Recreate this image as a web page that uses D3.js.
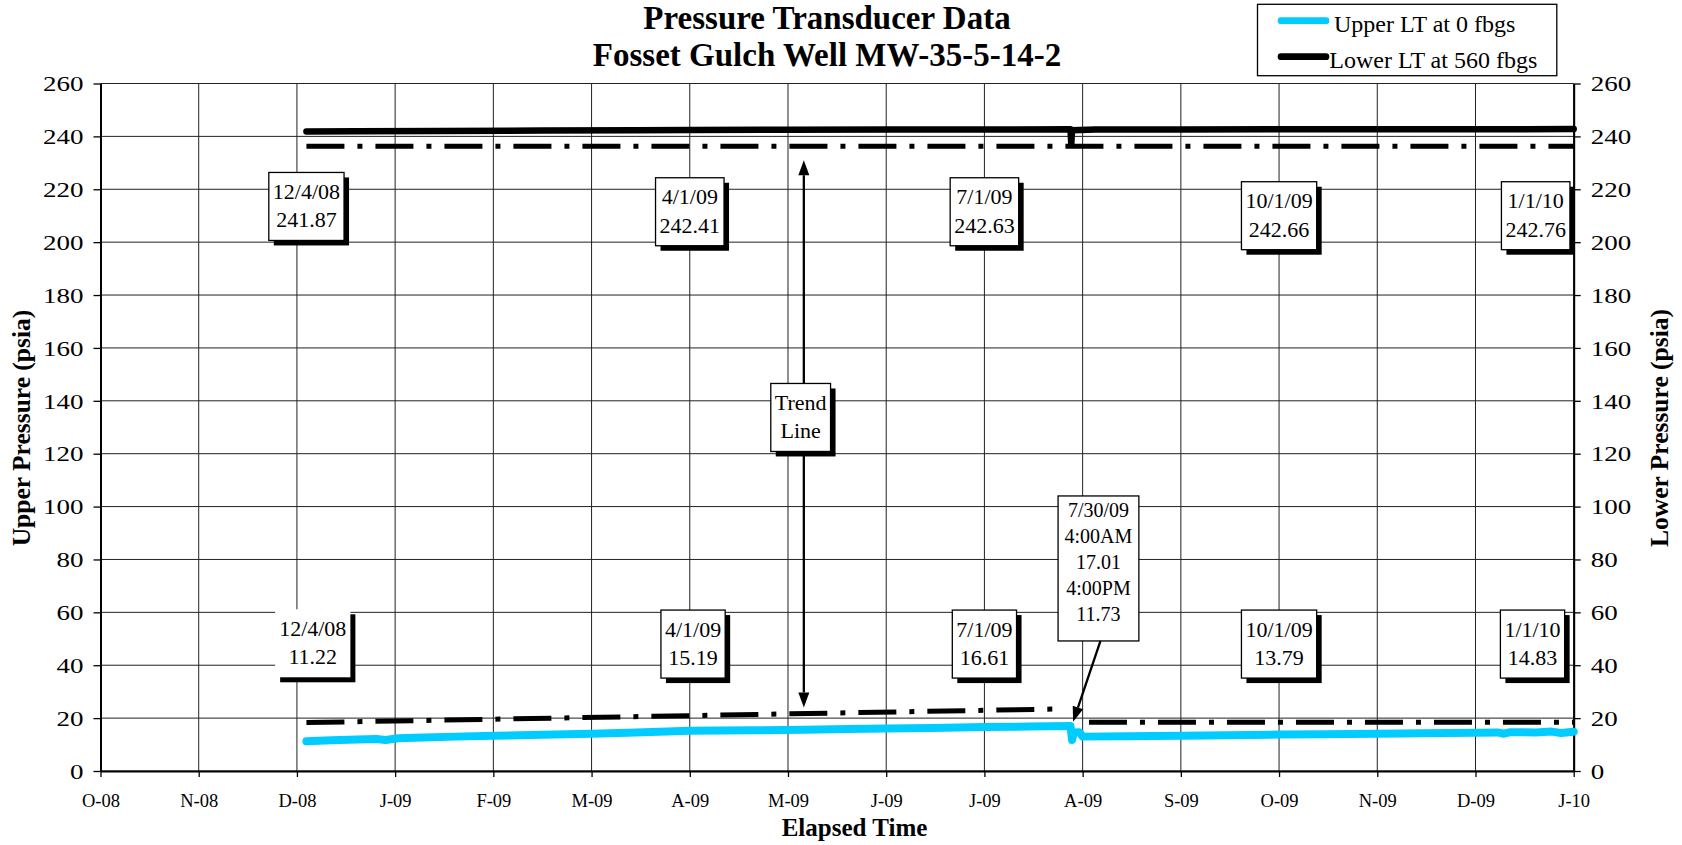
<!DOCTYPE html>
<html><head><meta charset="utf-8">
<script src="https://cdn.jsdelivr.net/npm/d3@7"></script>
<style>
body{margin:0;background:#fff;}
svg{display:block;font-family:"Liberation Serif","Times New Roman",serif;}
</style></head><body>
<svg id="chart" width="1682" height="845"></svg>
<script>
// ---------- DATA ----------
const xTickLabels = ["O-08","N-08","D-08","J-09","F-09","M-09","A-09","M-09","J-09","J-09","A-09","S-09","O-09","N-09","D-09","J-10"];
const yTicks = [0,20,40,60,80,100,120,140,160,180,200,220,240,260];

const upperDates = ["2008-12-04","2008-12-12","2008-12-20","2008-12-26","2008-12-29","2009-01-02","2009-01-10","2009-01-20","2009-02-01","2009-02-15","2009-03-01","2009-03-15","2009-04-01","2009-04-20","2009-05-06","2009-05-20","2009-06-01","2009-06-15","2009-07-01","2009-07-15","2009-07-28 04:00","2009-07-28 16:00","2009-07-29 06:00","2009-07-31 00:00","2009-08-01 00:00","2009-08-15","2009-09-01","2009-09-15","2009-10-01","2009-10-15","2009-11-01","2009-11-15","2009-12-01","2009-12-08","2009-12-10","2009-12-12","2009-12-20","2009-12-25","2009-12-28","2010-01-01"];
const upperValues = [11.22,11.6,11.9,12.1,11.7,12.4,12.7,13.0,13.3,13.7,14.1,14.6,15.19,15.4,15.6,15.9,16.1,16.3,16.61,16.8,17.01,11.73,14.6,14.7,13.0,13.1,13.3,13.5,13.79,13.9,14.1,14.3,14.5,14.6,14.1,14.7,14.6,14.9,14.4,14.83];

const lowerDates = ["2008-12-04","2008-12-20","2009-01-15","2009-02-15","2009-03-15","2009-04-01","2009-05-01","2009-06-01","2009-07-01","2009-07-28 04:00","2009-07-28 10:00","2009-07-28 16:00","2009-08-05","2009-09-01","2009-10-01","2009-11-01","2009-12-01","2010-01-01"];
const lowerValues = [241.87,241.95,242.08,242.2,242.32,242.41,242.5,242.57,242.63,242.66,237.0,242.3,242.6,242.63,242.66,242.7,242.73,242.76];

const lowerTrendDates = ["2008-12-04","2010-01-01"];
const lowerTrendValues = [236.3,236.3];
const upperTrendADates = ["2008-12-04","2009-07-26"];
const upperTrendAValues = [18.3,23.5];
const upperTrendBDates = ["2009-08-03","2010-01-01"];
const upperTrendBValues = [18.4,18.4];

const legendLabels = ["Upper LT at 0 fbgs","Lower LT at 560 fbgs"];
const titleLines = ["Pressure Transducer Data","Fosset Gulch Well MW-35-5-14-2"];

// callout texts and the (date, psia) point each box is centred on
const calloutTexts = [
  ["12/4/08","241.87"],["4/1/09","242.41"],["7/1/09","242.63"],["10/1/09","242.66"],["1/1/10","242.76"],
  ["12/4/08","11.22"],["4/1/09","15.19"],["7/1/09","16.61"],["10/1/09","13.79"],["1/1/10","14.83"],
  ["7/30/09","4:00AM","17.01","4:00PM","11.73"],
  ["Trend","Line"]
];
const calloutDates = ["2008-12-04","2009-04-01","2009-07-01","2009-10-01","2009-12-20",
  "2008-12-06","2009-04-02","2009-07-01","2009-10-01","2009-12-19","2009-08-06","2009-05-05"];
const calloutValues = [213.5,211.5,211.5,210,210, 48.3,48,48,48,48, 76.6, 133.7];

// ---------- HELPERS ----------
function monthIndex(s){
  const [dp,tp] = s.split(" ");
  const [Y,M,D] = dp.split("-").map(Number);
  let h = 0; if(tp){ const [hh,mm]=tp.split(":").map(Number); h = hh + mm/60; }
  const dim = new Date(Y, M, 0).getDate();
  return (Y-2008)*12 + (M-1) - 9 + (D-1 + h/24)/dim;
}

const svg = d3.select("#chart");
const L = 100.5, R = 1573.7, T = 83.5, B = 771;
const x = d3.scaleLinear().domain([0,15]).range([L,R]);
const y = d3.scaleLinear().domain([0,260]).range([B,T]);

// ---------- GRID ----------
const grid = svg.append("g");
grid.selectAll("line.v").data(d3.range(xTickLabels.length)).join("line")
  .attr("x1",d=>x(d)).attr("x2",d=>x(d)).attr("y1",y(0)).attr("y2",y(260))
  .attr("stroke","#222").attr("stroke-width",1);
grid.selectAll("line.h").data(yTicks).join("line")
  .attr("x1",L).attr("x2",R).attr("y1",d=>y(d)).attr("y2",d=>y(d))
  .attr("stroke","#222").attr("stroke-width",1);

// ---------- AXES ----------
const axL = svg.append("g").attr("transform",`translate(${L},0)`)
  .call(d3.axisLeft(y).tickValues(yTicks).tickSize(7).tickSizeOuter(0).tickFormat(d3.format("d")));
const axR = svg.append("g").attr("transform",`translate(${R},0)`)
  .call(d3.axisRight(y).tickValues(yTicks).tickSize(7).tickSizeOuter(0).tickFormat(d3.format("d")));
const axB = svg.append("g").attr("transform",`translate(0,${B})`)
  .call(d3.axisBottom(x).tickValues(d3.range(xTickLabels.length)).tickSize(6).tickSizeOuter(0).tickFormat(i=>xTickLabels[i]));
[axL,axR,axB].forEach(a=>{
  a.select(".domain").attr("stroke","#000").attr("stroke-width",2);
  a.selectAll(".tick line").attr("stroke","#000").attr("stroke-width",1.3);
});
axL.selectAll(".tick text").attr("x",0).attr("dy","0.36em")
  .attr("transform","translate(-17,0) scale(1.35,1)")
  .attr("font-family","Liberation Serif").attr("font-size",20).attr("fill","#000").attr("text-anchor","end");
axR.selectAll(".tick text").attr("x",0).attr("dy","0.36em")
  .attr("transform","translate(17,0) scale(1.35,1)")
  .attr("font-family","Liberation Serif").attr("font-size",20).attr("fill","#000").attr("text-anchor","start");
axB.selectAll(".tick text").attr("y",36).attr("dy",0)
  .attr("font-family","Liberation Serif").attr("font-size",18.5).attr("fill","#000");

// ---------- TREND LINES ----------
const line = d3.line().x(d=>x(monthIndex(d[0]))).y(d=>y(d[1]));
const trend = svg.append("g").attr("fill","none").attr("stroke","#000").attr("stroke-width",5)
  .attr("stroke-dasharray","38,13,5,13");
[[lowerTrendDates,lowerTrendValues],[upperTrendADates,upperTrendAValues],[upperTrendBDates,upperTrendBValues]]
  .forEach(([ds,vs])=>trend.append("path").attr("d",line(d3.zip(ds,vs))));

// ---------- DATA LINES ----------
svg.append("path").attr("d",line(d3.zip(upperDates,upperValues)))
  .attr("fill","none").attr("stroke","#00CCFF").attr("stroke-width",8)
  .attr("stroke-linejoin","round").attr("stroke-linecap","round");
svg.append("path").attr("d",line(d3.zip(lowerDates,lowerValues)))
  .attr("fill","none").attr("stroke","#000").attr("stroke-width",6.5)
  .attr("stroke-linejoin","round").attr("stroke-linecap","round");

// ---------- ARROWS ----------
function arrow(x1,y1,x2,y2,headBoth){
  const g = svg.append("g");
  const head=(ax,ay,bx,by)=>{
    const ang=Math.atan2(by-ay,bx-ax), len=15, w=5.5;
    const px=bx-len*Math.cos(ang), py=by-len*Math.sin(ang);
    g.append("path").attr("d",`M${bx},${by}L${px+w*Math.sin(ang)},${py-w*Math.cos(ang)}L${px-w*Math.sin(ang)},${py+w*Math.cos(ang)}Z`).attr("fill","#000");
    return [px,py];
  };
  let [ex,ey]=head(x1,y1,x2,y2);
  let sx=x1, sy=y1;
  if(headBoth){ [sx,sy]=head(x2,y2,x1,y1); }
  g.append("line").attr("x1",sx).attr("y1",sy).attr("x2",ex).attr("y2",ey).attr("stroke","#000").attr("stroke-width",2.3);
}
const ax0 = x(monthIndex("2009-05-06"));
arrow(ax0, y(231), ax0, y(24), true);

// ---------- CALLOUT BOXES ----------
const boxGeom = [];
calloutTexts.forEach((lines,i)=>{
  const small = lines.length>2;
  const fs = small?20:22, lh = small?26:28.5, first = small?21:26.5, pad = small?6.5:4;
  const cx = x(monthIndex(calloutDates[i])), cy = y(calloutValues[i]);
  const h = small ? (lines.length-1)*lh + first + 20 : lines.length*lh + 11;
  const g = svg.append("g");
  const sh = g.append("rect"), bg = g.append("rect");
  const top = cy - h/2;
  let maxW = 0;
  lines.forEach((t,j)=>{
    const tx = g.append("text").attr("x",cx).attr("y",top+first+j*lh).attr("text-anchor","middle")
      .attr("font-size",fs).attr("fill","#000").text(t);
    maxW = Math.max(maxW, tx.node().getComputedTextLength());
  });
  const w = maxW + 2*pad;
  const noShadow = (i===10), noBorder = (i===5);
  if(!noShadow) sh.attr("x",cx-w/2+5).attr("y",top+5).attr("width",w).attr("height",h).attr("fill","#000");
  bg.attr("x",cx-w/2).attr("y",top).attr("width",w).attr("height",h).attr("fill","#fff")
    .attr("stroke",noBorder?"none":"#000").attr("stroke-width",1.3);
  boxGeom.push({cx,top,w,h});
});
// arrow from 7/30/09 callout to the drop
const b = boxGeom[10];
arrow(b.cx+2, b.top+b.h, x(monthIndex("2009-07-29")), y(18.6), false);

// ---------- TITLES ----------
svg.append("text").attr("x",827).attr("y",29).attr("text-anchor","middle").attr("font-size",33).attr("font-weight","bold").text(titleLines[0]);
svg.append("text").attr("x",827).attr("y",66).attr("text-anchor","middle").attr("font-size",33).attr("font-weight","bold").text(titleLines[1]);
svg.append("text").attr("x",854.5).attr("y",836).attr("text-anchor","middle").attr("font-size",25).attr("font-weight","bold").text("Elapsed Time");
svg.append("text").attr("transform","translate(30,428) rotate(-90)").attr("text-anchor","middle").attr("font-size",25.5).attr("font-weight","bold").text("Upper Pressure (psia)");
svg.append("text").attr("transform","translate(1668,428) rotate(-90)").attr("text-anchor","middle").attr("font-size",25.5).attr("font-weight","bold").text("Lower Pressure (psia)");

// ---------- LEGEND ----------
const lg = svg.append("g");
lg.append("rect").attr("x",1257.5).attr("y",4.3).attr("width",299.3).attr("height",71.4).attr("fill","#fff").attr("stroke","#000").attr("stroke-width",1.3);
const legendColors = ["#00CCFF","#000"];
legendLabels.forEach((t,i)=>{
  const yy = i===0?20.7:56.7;
  lg.append("line").attr("x1",1281).attr("x2",1326).attr("y1",yy).attr("y2",yy)
    .attr("stroke",legendColors[i]).attr("stroke-width",6.7).attr("stroke-linecap","round");
  lg.append("text").attr("x",i===0?1334:1329.3).attr("y",i===0?31.7:68.3).attr("font-size",24).text(t);
});
</script>
</body></html>
